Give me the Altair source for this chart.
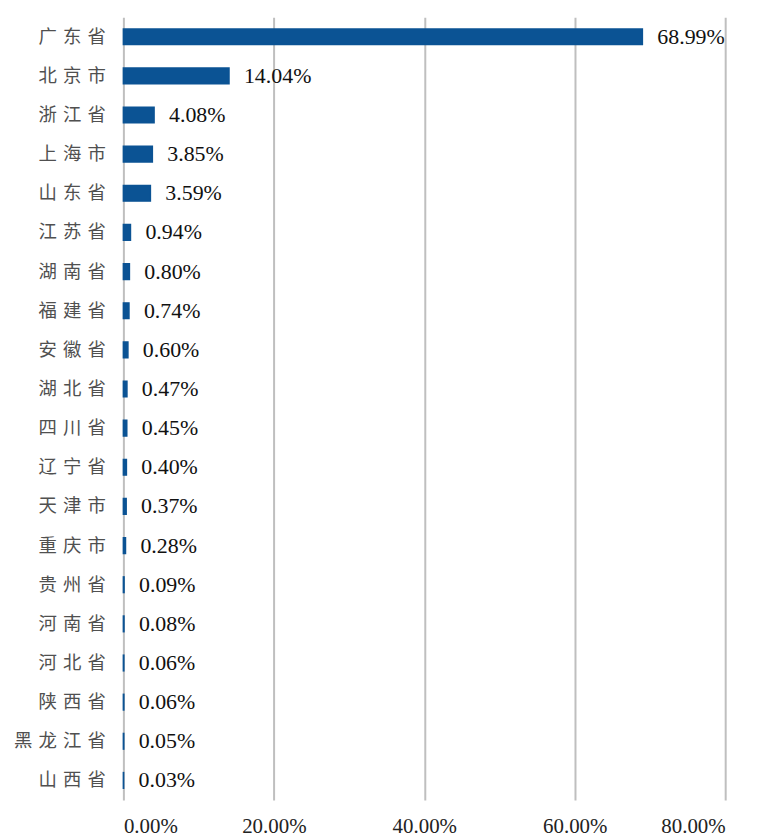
import altair as alt
import pandas as pd

provinces = ["广东省", "北京市", "浙江省", "上海市", "山东省", "江苏省", "湖南省", "福建省", "安徽省", "湖北省",
             "四川省", "辽宁省", "天津市", "重庆市", "贵州省", "河南省", "河北省", "陕西省", "黑龙江省", "山西省"]
shares = [68.99, 14.04, 4.08, 3.85, 3.59, 0.94, 0.80, 0.74, 0.60, 0.47,
          0.45, 0.40, 0.37, 0.28, 0.09, 0.08, 0.06, 0.06, 0.05, 0.03]
x_ticks = [0, 20, 40, 60, 80]

df = pd.DataFrame({"province": provinces, "share": shares})

x = alt.X("share:Q",
          scale=alt.Scale(domain=[0, 80], nice=False),
          axis=alt.Axis(values=x_ticks, title=None, grid=True, gridColor="#BFBFBF", gridWidth=2,
                        domain=False, ticks=False, labelPadding=16,
                        labelExpr="format(datum.value,'.2f')+'%'",
                        labelFont="Liberation Serif", labelFontSize=21, labelColor="#222222"))
y = alt.Y("province:N", sort=provinces,
          scale=alt.Scale(paddingInner=0.6, paddingOuter=0.3),
          axis=alt.Axis(title=None, domain=False, ticks=False, labelPadding=18,
                        labelExpr="join(split(datum.label,''),'\u2004')",
                        labelFont="Noto Sans CJK SC", labelFontSize=18.5, labelColor="#505050",
                        labelFontWeight="normal"))

bars = alt.Chart(df).mark_bar(color="#0B5394", stroke="#0B5394", strokeWidth=1.5).encode(x=x, y=y)
labels = alt.Chart(df).transform_calculate(
    lbl="format(datum.share,'.2f')+'%'"
).mark_text(align="left", baseline="middle", dx=15, font="Liberation Serif",
            fontSize=22, color="#111111").encode(
    x="share:Q", y=alt.Y("province:N", sort=provinces), text="lbl:N")

chart = alt.layer(bars, labels).properties(
    width=605, height=787,
    background="white",
    autosize=alt.AutoSizeParams(type="none"),
    padding={"left": 116, "top": 7, "right": 37, "bottom": 36},
).configure_view(stroke=None)

chart.save("out.html", embed_options={"renderer": "svg", "actions": False})
